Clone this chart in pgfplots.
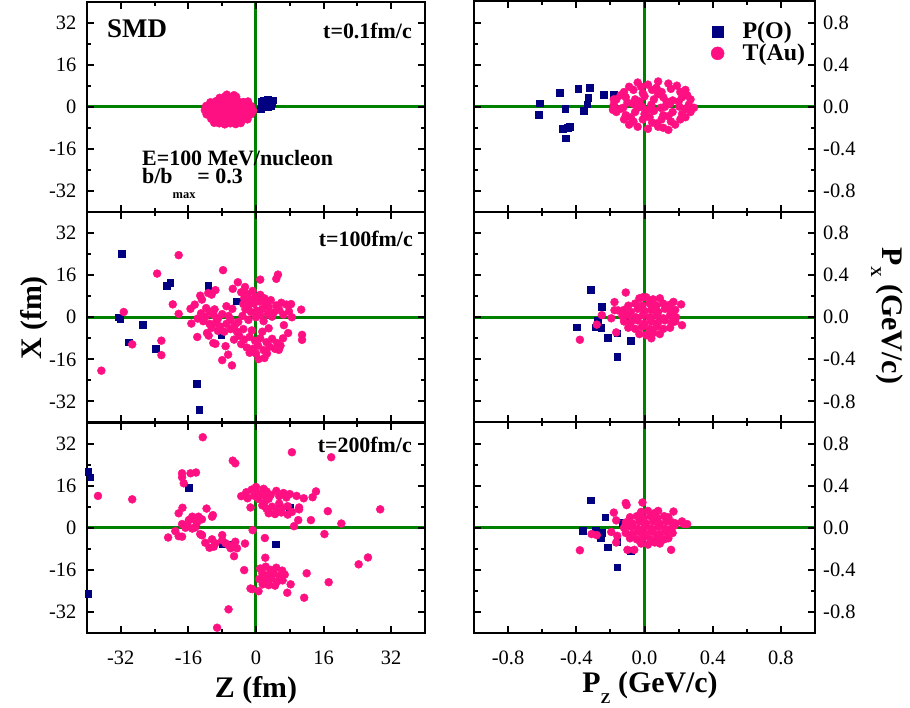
\documentclass[border=0pt]{standalone}
\usepackage{fontspec}
\setmainfont{Liberation Serif}
\usepackage{pgfplots}
\pgfplotsset{compat=1.18}
\definecolor{navyO}{RGB}{0,0,128}
\definecolor{pinkAu}{RGB}{255,16,130}
\definecolor{grn}{RGB}{0,128,0}
\pgfplotsset{
  panel/.style={scale only axis, height=210.5bp, anchor=south west,
    axis line style={line width=2bp}, axis on top,
    tick align=inside, tick pos=both, xticklabel pos=lower,
    major tick length=7bp, minor tick length=4bp,
    every tick/.append style={black, line width=2bp},
    tick label style={font=\fontsize{20.5}{20.5}\selectfont, inner sep=0pt},
    xticklabel style={yshift=-18bp},
    /pgf/number format/assume math mode=true},
  lcol/.style={panel, width=338bp, xmin=-40, xmax=40, ymin=-40, ymax=40,
    xtick={-32,-16,0,16,32}, ytick={-32,-16,0,16,32},
    minor xtick={-24,-8,8,24}, minor ytick={-24,-8,8,24},
    yticklabel pos=left, yticklabel style={xshift=-10.5bp}},
  rcol/.style={panel, width=341bp, xmin=-1, xmax=1, ymin=-1, ymax=1,
    xtick={-0.8,-0.4,0,0.4,0.8}, ytick={-0.8,-0.4,0,0.4,0.8},
    minor xtick={-0.6,-0.2,0.2,0.6}, minor ytick={-0.6,-0.2,0.2,0.6},
    yticklabel pos=right, yticklabel style={xshift=8bp},
    xticklabel style={/pgf/number format/.cd, fixed, fixed zerofill, precision=1},
    yticklabel style={/pgf/number format/.cd, fixed, fixed zerofill, precision=1}},
  pO/.style={only marks, mark=square*, mark size=3.3bp, color=navyO},
  tAu/.style={only marks, mark=*, mark size=4bp, color=pinkAu},
  gl/.style={draw=grn, line width=3bp, no marks, forget plot},
}
\begin{document}
\begin{tikzpicture}
\useasboundingbox (0,0) rectangle (910bp,708bp);
% ---------------- top left
\begin{axis}[lcol, at={(87bp,496bp)}, xticklabels={}]
\addplot[pO] coordinates {(1.5,0.2) (1.6,1.3) (1.8,2.4) (2.2,0.6) (2.4,1.8) (2.7,2.6) (2.8,0.0) (3.0,1.2) (3.3,2.2) (3.5,0.5) (3.8,1.6) (3.9,2.5) (2.1,-0.1) (1.4,1.9) (1.1,-1.0)};
\addplot[tAu] coordinates {
(-8.6,3.4) (-7.3,3.9) (-6.0,3.5) (-4.7,3.8)
(-10.8,1.7) (-9.5,2.1) (-8.2,1.8) (-6.9,2.3) (-5.6,1.7) (-4.3,2.1) (-3.0,1.8) (-1.9,2.0)
(-11.8,0.3) (-10.5,0.0) (-9.2,0.4) (-7.9,0.1) (-6.6,0.5) (-5.3,0.0) (-4.0,0.4) (-2.7,0.1) (-1.2,0.3)
(-12.1,-1.3) (-10.8,-1.6) (-9.5,-1.2) (-8.2,-1.7) (-6.9,-1.3) (-5.6,-1.6) (-4.3,-1.2) (-3.0,-1.7) (-1.7,-1.3) (-0.7,-1.5)
(-11.7,-2.9) (-10.4,-3.2) (-9.1,-2.8) (-7.8,-3.2) (-6.5,-2.9) (-5.2,-3.3) (-3.9,-2.8) (-2.6,-3.1) (-1.2,-2.9)
(-10.6,-4.6) (-9.3,-4.9) (-8.0,-4.5) (-6.7,-5.0) (-5.4,-4.6) (-4.1,-4.9) (-2.8,-4.5) (-2.0,-4.8)
(-8.7,-6.3) (-7.4,-6.7) (-6.1,-6.3) (-4.8,-6.6) (-3.6,-6.2) (-9.9,-6.1) (-6.9,4.6) (-5.2,4.4)};
\addplot[gl] coordinates {(-40,0) (40,0)};
\addplot[gl] coordinates {(0,-40) (0,40)};
\end{axis}
% ---------------- middle left
\begin{axis}[lcol, at={(87bp,285.5bp)}, xticklabels={}]
\addplot[pO] coordinates {(-31.8,24.1) (-32.5,0) (-32.1,-0.5) (-26.8,-2.8) (-30.1,-9.5) (-23.8,-12.0) (-21.2,12.1) (-20.3,13.1) (-11.3,12.1) (-4.5,6.1) (-8.2,-6.6) (-14.1,-25.3) (-13.4,-35.1)};
\addplot[tAu] coordinates {
(-18.3,23.6) (-23.4,16.6) (-7.8,17.9) (-31.3,2.0) (-36.6,-20.3) (-29.3,-10.3) (-22.4,-8.9) (-22.4,-14.4) (-19.7,4.9) (-18.3,1.3)
(1.0,14.3) (5.2,16.2) (4.8,14.6) (10.7,2.9) (10.9,-6.7) (10.9,-8.6) (8.5,0) (6.6,-3.0) (7.6,-6.0) (6.4,-8.0) (5.4,-12.4)
(2.0,-15.5) (0.6,-15.9) (-8.0,-16.3) (-5.7,-18.3) (-6.6,-14.2) (-7.2,-11.0) (-9.6,-10.1) (-10.1,-9.8) (-13.9,-7.5) (-11.6,-6.0) (-11.2,-7.0)
(-15.3,-2.4) (-15.5,3.2) (-14.5,4.8) (-13.2,8.2) (-12.8,6.7) (-11.3,9.2) (-10.5,8.6) (-9.6,10.3) (-7.0,4.2) (-5.6,3.2) (-5.5,10.8) (-4.3,13.3) (-2.6,11.5)
(-3.5,9.5) (-2.0,8.8) (-0.8,10.0) (-2.8,7.2) (-1.5,6.5) (-0.2,7.8) (1.0,8.5) (-3.0,5.0) (-1.8,4.2) (-0.5,5.2) (0.8,6.0) (2.2,5.5) (3.5,6.5) (4.8,4.5) (3.0,3.8) (1.5,3.2) (0.2,2.5) (-1.2,2.0) (-2.5,3.0) (6.0,5.5) (7.2,4.8) (5.5,2.8) (7.8,2.2) (4.2,1.8) (2.8,1.2) (1.0,0.8) (6.5,1.0) (3.8,0.2) (8.3,5.0) (2.0,7.2)
(-13.0,1.5) (-12.0,0.2) (-11.0,2.2) (-10.0,0.8) (-9.0,-0.5) (-8.0,1.2) (-12.5,-1.5) (-11.0,-2.5) (-9.5,-2.0) (-8.5,-3.5) (-7.0,-2.5) (-6.0,-1.0) (-5.0,-3.0) (-10.5,-4.0) (-9.0,-5.2) (-7.5,-5.5) (-6.0,-4.5) (-4.5,-5.5) (-13.8,-0.5) (-11.8,3.5) (-9.8,3.0) (-6.5,0.5) (-4.2,-1.8)
(-4.0,-7.0) (-2.8,-8.5) (-1.5,-7.5) (-0.2,-9.0) (1.0,-8.0) (2.5,-9.5) (3.8,-8.2) (5.0,-9.8) (-3.5,-10.2) (-2.2,-11.5) (-0.8,-12.0) (0.5,-10.8) (1.8,-12.5) (3.2,-11.2) (4.5,-12.0) (-1.5,-13.5) (0.0,-13.8) (2.6,-13.8) (-3.0,-4.5) (-1.0,-5.0) (1.5,-5.5) (3.0,-4.2) (-5.2,-8.5) (5.8,-10.8)
(0.0,0.0) (-1.8,-1.0) (1.8,-1.5) (-3.2,0.5)};
\addplot[gl] coordinates {(-40,0) (40,0)};
\addplot[gl] coordinates {(0,-40) (0,40)};
\end{axis}
% ---------------- bottom left
\begin{axis}[lcol, at={(87bp,75bp)}]
\addplot[pO] coordinates {(-39.7,21.3) (-39.2,19.2) (-15.9,15.2) (8.0,7.7) (4.6,-6.3) (-39.7,-25) (-7.9,-6.2) (-5.5,-6.2)};
\addplot[tAu] coordinates {
(-12.6,34.4) (8.5,28.7) (17.8,26.8) (-5.5,25.5) (-4.9,24.5) (-37.4,12.1) (-29.3,10.8) (-17.5,20.7) (-17.5,19.2) (-17.1,16.9) (-15.5,20.7) (-14.2,21.0)
(-18.3,5.5) (-17.4,7.6) (-11.7,7.3) (-10.2,4.8) (-10.4,4.2) (-20.8,-3.7) (-19.1,-1.3) (-13.2,-2.4) (-12.8,-2.8)
(-17.5,1.4) (-15.1,4.2) (-15.5,3.2) (-13.6,4.2) (-12.8,3.2) (-15.9,2.9) (-15.1,-0.3) (-16.7,0) (-14.4,0.1) (-18.3,-3.2) (-17.5,-3.4) (-12.8,-2.8) (-14.0,1.8) (-16.3,1.2)
(-12.0,-5.7) (-10.4,-4.4) (-10.0,-7.2) (-8.0,-2.8) (-8.0,-4.7) (-6.5,-6.6) (-4.9,-5.3) (-4.5,-7.8) (-5.2,-7.0) (-2.6,-6.0) (-5.2,-10.8) (-9.6,-5.9) (-7.2,-5.9) (-6.0,-7.8) (-11.0,-7.6)
(-2.8,-16.1) (-6.5,-31.0) (-9.2,-38) (-1.3,-23.1) (-0.9,-23.3) (0.6,-24.1)
(1.0,-15.5) (2.3,-14.8) (3.5,-16.0) (4.8,-15.2) (6.2,-16.3) (1.5,-17.3) (2.8,-18.0) (4.2,-17.5) (5.5,-18.3) (6.8,-17.8) (0.8,-19.5) (2.2,-20.0) (3.6,-19.3) (5.0,-20.5) (6.3,-20.0) (3.0,-21.8) (4.5,-22.0) (1.6,-21.5)
(2.1,-3.9) (2.2,-11.4) (8.2,-21.5) (7.4,-24.7) (11.4,-26.6) (12.0,-17.3) (17.2,-20.7) (24.3,-13.9) (26.5,-11.3) (16.2,-2.4) (20.2,1.6) (29.4,7.0) (17.0,6.3) (13.0,2.9) (10.0,2.9) (9.0,0.6) (10.2,7.7) (10.2,7.0) (9.6,12.1) (11.3,11.2) (13.4,11.6) (14.2,13.8) (-1.3,7.7) (-0.8,-0.9)
(-3.5,12.0) (-2.3,13.5) (-1.0,14.5) (0.0,15.5) (-0.5,12.2) (1.0,13.0) (2.2,12.0) (3.5,12.5) (4.8,14.0) (5.5,12.0) (6.5,13.2) (7.2,11.5) (0.5,11.0) (-2.0,11.2) (1.8,14.8) (3.0,11.0) (8.0,12.8) (-0.2,13.5) (2.5,13.8)
(1.5,8.5) (2.5,7.2) (3.8,8.0) (5.0,6.8) (6.2,7.5) (7.5,8.2) (3.0,5.5) (4.5,5.2) (6.0,5.8) (7.5,5.0) (2.0,9.5) (5.5,9.2) (8.5,6.0)};
\addplot[gl] coordinates {(-40,0) (40,0)};
\addplot[gl] coordinates {(0,-40) (0,40)};
\end{axis}
% ---------------- top right
\begin{axis}[rcol, at={(474bp,496bp)}, xticklabels={},
  legend style={at={(rel axis cs:0.686,0.912)}, anchor=north west, draw=none, fill=none,
    font=\bfseries\fontsize{24}{24}\selectfont, row sep=4bp, nodes={inner sep=0pt}, cells={anchor=west}}]
\addplot[pO, legend image code/.code={\path[draw=none,fill=none] (0bp,-5bp) rectangle (30.5bp,5bp); \draw[navyO, mark=square*, mark size=5.5bp] plot coordinates {(5.5bp,0bp)};}] coordinates {(-0.614,0.035) (-0.619,-0.077) (-0.497,0.131) (-0.466,-0.019) (-0.481,-0.21) (-0.451,-0.20) (-0.44,-0.19) (-0.462,-0.298) (-0.389,0.173) (-0.320,0.18) (-0.33,0.087) (-0.337,0.026) (-0.357,-0.035) (-0.239,0.109) (-0.239,0.12) (-0.18,0.115)};
\addlegendentry{P(O)}
\addplot[tAu, legend image code/.code={\path[draw=none,fill=none] (0bp,-5bp) rectangle (30.5bp,5bp); \draw[pinkAu, mark=*, mark size=6.5bp] plot coordinates {(5.5bp,0bp)};}] coordinates {
(-0.04,0.23) (0.02,0.21) (0.08,0.24) (0.14,0.22)
(-0.12,0.14) (-0.065,0.16) (-0.01,0.13) (0.045,0.16) (0.10,0.14) (0.155,0.17) (0.21,0.14) (0.24,0.16)
(-0.165,0.07) (-0.11,0.09) (-0.055,0.07) (0.0,0.10) (0.055,0.07) (0.11,0.09) (0.165,0.06) (0.22,0.09) (0.27,0.07)
(-0.18,0.02) (-0.125,-0.01) (-0.07,0.03) (-0.015,0.00) (0.04,0.02) (0.095,-0.01) (0.15,0.03) (0.205,0.00) (0.26,0.02) (0.29,-0.01)
(-0.165,-0.05) (-0.11,-0.08) (-0.055,-0.05) (0.0,-0.07) (0.055,-0.04) (0.11,-0.08) (0.165,-0.05) (0.22,-0.07) (0.27,-0.05)
(-0.12,-0.12) (-0.065,-0.14) (-0.01,-0.12) (0.045,-0.15) (0.10,-0.12) (0.155,-0.14) (0.21,-0.12)
(-0.04,-0.19) (0.02,-0.21) (0.08,-0.19) (0.14,-0.22) (-0.185,-0.03) (-0.18,0.07)
(-0.09,0.19) (0.07,0.18) (0.19,0.20) (-0.14,0.11) (-0.03,0.05) (0.08,0.12) (0.13,0.05) (0.25,0.11)
(-0.10,0.04) (0.02,-0.03) (0.12,0.00) (0.24,-0.02) (-0.14,-0.02) (-0.08,-0.10) (0.03,-0.10) (0.14,-0.09) (0.24,-0.10)
(-0.09,-0.17) (0.07,-0.16) (0.18,-0.17) (-0.02,0.19) (0.11,-0.20) (0.20,0.05) (-0.04,-0.01)};
\addlegendentry{T(Au)}
\addplot[gl] coordinates {(-1,0) (1,0)};
\addplot[gl] coordinates {(0,-1) (0,1)};
\end{axis}
% ---------------- middle right
\begin{axis}[rcol, at={(474bp,285.5bp)}, xticklabels={}]
\addplot[pO] coordinates {(-0.314,0.26) (-0.25,0.10) (-0.274,-0.03) (-0.396,-0.093) (-0.289,-0.093) (-0.254,-0.1) (-0.215,-0.195) (-0.16,-0.15) (-0.081,-0.22) (-0.16,-0.375) (-0.107,0.01)};
\addplot[tAu] coordinates {
(-0.03,0.18) (0.01,0.19) (0.05,0.17) (0.09,0.18)
(-0.095,0.11) (-0.055,0.13) (-0.015,0.11) (0.03,0.13) (0.07,0.11) (0.11,0.13) (0.15,0.12)
(-0.12,0.07) (-0.08,0.05) (-0.04,0.08) (0.0,0.06) (0.04,0.07) (0.08,0.05) (0.12,0.08) (0.16,0.06) (0.18,0.07)
(-0.13,0.01) (-0.09,0.02) (-0.05,0.00) (-0.01,0.02) (0.03,0.00) (0.07,0.02) (0.11,-0.01) (0.15,0.02) (0.185,0.00)
(-0.12,-0.04) (-0.08,-0.05) (-0.04,-0.03) (0.0,-0.06) (0.04,-0.04) (0.08,-0.05) (0.12,-0.03) (0.16,-0.05) (0.18,-0.04)
(-0.095,-0.10) (-0.055,-0.11) (-0.015,-0.09) (0.03,-0.11) (0.07,-0.09) (0.11,-0.11) (0.15,-0.10)
(-0.03,-0.16) (0.01,-0.17) (0.05,-0.15) (0.09,-0.16)
(-0.379,-0.214) (-0.28,-0.07) (-0.25,0.02) (-0.195,-0.01) (-0.176,0.144) (-0.176,0.067) (-0.155,0.065) (-0.166,-0.144) (-0.11,0.235) (0.215,0.122) (0.17,0.146) (0.22,-0.076) (0.04,-0.2) (-0.01,0.19)};
\addplot[gl] coordinates {(-1,0) (1,0)};
\addplot[gl] coordinates {(0,-1) (0,1)};
\end{axis}
% ---------------- bottom right
\begin{axis}[rcol, at={(474bp,75bp)}]
\addplot[pO] coordinates {(-0.314,0.26) (-0.23,0.10) (-0.363,-0.03) (-0.288,-0.022) (-0.25,-0.047) (-0.258,-0.1) (-0.215,-0.185) (-0.16,-0.13) (-0.08,-0.22) (-0.16,-0.375) (-0.13,0.05)};
\addplot[tAu] coordinates {
(-0.02,0.15) (0.02,0.16) (0.06,0.14) (0.08,0.16)
(-0.085,0.10) (-0.045,0.11) (-0.005,0.09) (0.035,0.11) (0.075,0.09) (0.115,0.11) (0.14,0.10)
(-0.11,0.05) (-0.07,0.04) (-0.03,0.06) (0.01,0.04) (0.05,0.06) (0.09,0.04) (0.13,0.06) (0.165,0.05)
(-0.12,0.0) (-0.08,0.01) (-0.04,-0.01) (0.0,0.01) (0.04,-0.01) (0.08,0.01) (0.12,-0.01) (0.16,0.0) (0.175,0.02)
(-0.11,-0.05) (-0.07,-0.06) (-0.03,-0.04) (0.01,-0.06) (0.05,-0.04) (0.09,-0.06) (0.13,-0.04) (0.165,-0.05)
(-0.085,-0.10) (-0.045,-0.11) (-0.005,-0.09) (0.035,-0.11) (0.075,-0.09) (0.115,-0.11) (0.14,-0.10)
(-0.02,-0.15) (0.02,-0.16) (0.06,-0.14) (0.09,-0.15)
(-0.379,-0.214) (-0.31,-0.06) (-0.28,-0.07) (-0.195,-0.04) (-0.18,0.144) (-0.166,0.07) (-0.16,-0.077) (-0.166,-0.14) (-0.11,0.235) (-0.105,0.215) (-0.012,0.24) (-0.1,-0.21) (0.156,-0.21) (0.25,0.035) (0.23,0.035) (0.184,0.04) (0.17,0.154) (-0.06,-0.21) (0.22,0.06)};
\addplot[gl] coordinates {(-1,0) (1,0)};
\addplot[gl] coordinates {(0,-1) (0,1)};
\end{axis}
% ---------------- texts
\begin{scope}[every node/.style={inner sep=0pt, font=\bfseries\fontsize{22}{22}\selectfont}]
\node[anchor=base west, font=\bfseries\fontsize{27}{27}\selectfont] at (107bp,670bp) {SMD};
\node[anchor=base east] at (412bp,669bp) {t=0.1fm/c};
\node[anchor=base west] at (142bp,542bp) {E=100 MeV/nucleon};
\node[anchor=base west] at (142bp,524bp) {b/b\smash{\raisebox{-15bp}{\fontsize{12.5}{12.5}\selectfont max}}\kern2bp = 0.3};
\node[anchor=base east] at (413bp,461bp) {t=100fm/c};
\node[anchor=base east] at (412bp,255bp) {t=200fm/c};
\node[anchor=base, font=\bfseries\fontsize{30}{30}\selectfont] at (256bp,11bp) {Z (fm)};
\node[anchor=base, font=\bfseries\fontsize{30}{30}\selectfont] at (650bp,16bp) {P\smash{\raisebox{-11bp}{\fontsize{15}{15}\selectfont Z}} (GeV/c)};
\node[anchor=base, rotate=90, font=\bfseries\fontsize{30}{30}\selectfont] at (41bp,390bp) {X (fm)};
\node[anchor=base, rotate=-90, font=\bfseries\fontsize{30}{30}\selectfont] at (882bp,392bp) {P\smash{\raisebox{-11bp}{\fontsize{15}{15}\selectfont X}} (GeV/c)};
\end{scope}
\end{tikzpicture}
\end{document}
